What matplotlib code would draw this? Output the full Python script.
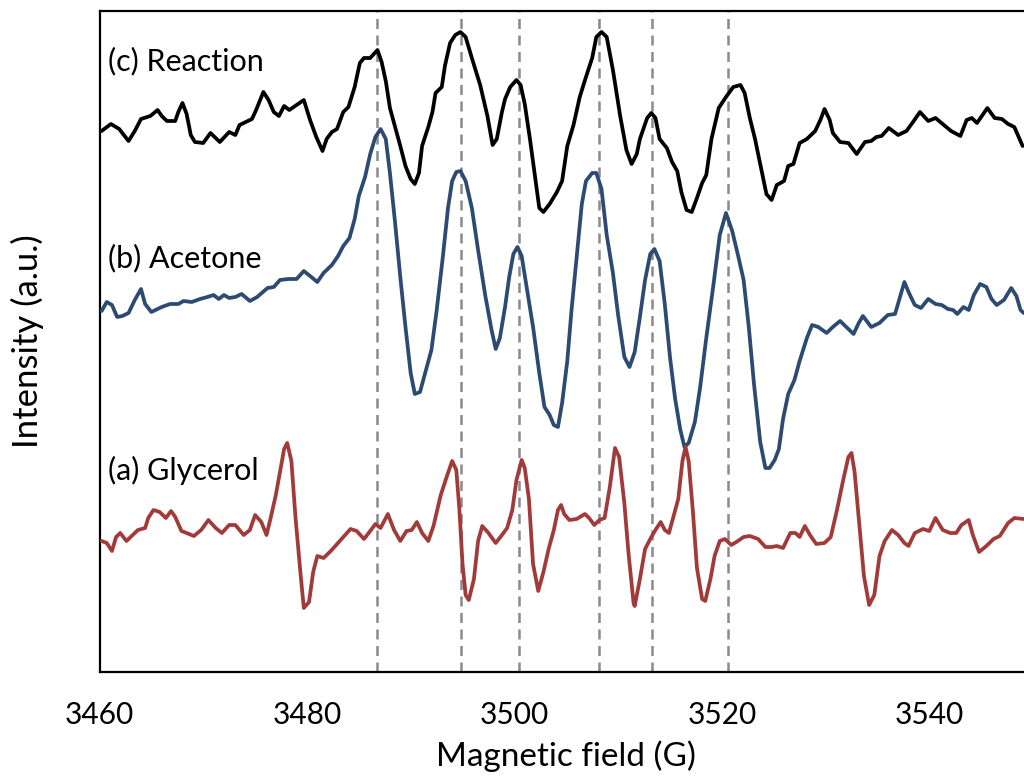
import matplotlib
matplotlib.use("Agg")
import matplotlib.pyplot as plt
import numpy as np

plt.rcParams['font.family'] = ['Lato', 'DejaVu Sans']

# EPR spectra (field in G, intensity in a.u. about each baseline)
field_c = [3460.2, 3461.1, 3461.9, 3462.8, 3463.4, 3464.0, 3464.9, 3465.6, 3466.0, 3466.5,
           3467.3, 3467.6, 3468.0, 3468.4, 3468.8, 3469.2, 3470.0, 3470.7, 3471.6, 3472.5,
           3473.1, 3473.5, 3474.7, 3475.1, 3475.8, 3476.3, 3476.8, 3477.3, 3477.8, 3478.3,
           3479.0, 3479.7, 3480.3, 3480.9, 3481.5, 3481.9, 3482.4, 3482.9, 3483.5, 3484.0,
           3484.6, 3485.1, 3485.5, 3486.1, 3486.8, 3487.2, 3487.6, 3488.0, 3488.5, 3489.0,
           3489.5, 3490.0, 3490.4, 3490.8, 3491.1, 3491.7, 3492.1, 3492.4, 3493.0, 3493.3,
           3493.8, 3494.3, 3494.8, 3495.3, 3495.9, 3496.7, 3497.4, 3497.9, 3498.3, 3498.8,
           3499.1, 3499.6, 3500.2, 3500.6, 3501.0, 3501.5, 3502.0, 3502.4, 3502.8, 3503.4,
           3504.1, 3504.6, 3505.1, 3505.7, 3506.3, 3506.9, 3507.5, 3507.9, 3508.4, 3508.9,
           3509.5, 3510.2, 3510.8, 3511.3, 3511.8, 3512.1, 3512.8, 3513.2, 3513.6, 3514.0,
           3514.7, 3515.2, 3515.7, 3516.1, 3516.6, 3517.1, 3517.6, 3518.1, 3518.5, 3519.0,
           3519.7, 3520.4, 3521.1, 3521.8, 3522.2, 3522.7, 3523.2, 3523.8, 3524.3, 3524.8,
           3525.3, 3526.0, 3526.4, 3526.9, 3527.5, 3528.2, 3529.0, 3529.5, 3529.9, 3530.4,
           3530.7, 3531.4, 3532.2, 3533.0, 3533.8, 3534.4, 3534.9, 3535.4, 3536.1, 3537.0,
           3537.8, 3538.5, 3539.1, 3539.9, 3540.6, 3541.3, 3542.1, 3543.0, 3543.6, 3544.1,
           3544.6, 3545.6, 3546.3, 3547.0, 3547.6, 3548.2, 3548.7, 3549.0]
reaction = [-1, 6, 1, -11, -1, 11, 14, 20, 14, 9,
            9, 18, 27, 16, -5, -12, -13, -3, -12, -2,
            -5, 5, 11, 20, 38, 30, 18, 14, 24, 20,
            25, 30, 10, -7, -21, -9, -2, 1, 18, 23,
            43, 67, 72, 72, 80, 68, 49, 22, 3, -16,
            -36, -49, -54, -43, -16, 3, 18, 37, 43, 64,
            87, 95, 98, 93, 72, 45, 14, -15, -9, 18,
            31, 43, 50, 45, 26, -9, -47, -78, -82, -74,
            -62, -51, -16, 5, 33, 53, 72, 93, 98, 93,
            60, 14, -20, -34, -24, -9, 12, 17, 12, -9,
            -18, -32, -41, -62, -80, -82, -68, -53, -45, -9,
            22, 33, 43, 45, 37, 12, -9, -39, -64, -70,
            -55, -51, -36, -34, -13, -9, -1, 10, 21, 10,
            -3, -12, -13, -24, -12, -11, -7, -6, 2, -5,
            -1, 9, 18, 9, 12, 6, -1, -6, 10, 12,
            7, 22, 12, 11, 6, 3, -9, -16]

field_b = [3460.2, 3460.7, 3461.2, 3461.7, 3462.2, 3462.8, 3463.4, 3464.0, 3464.4, 3465.0,
           3466.0, 3466.8, 3467.6, 3468.1, 3468.9, 3469.7, 3470.4, 3471.0, 3471.5, 3472.0,
           3472.5, 3473.1, 3473.7, 3474.5, 3475.2, 3476.2, 3476.8, 3477.4, 3478.2, 3479.0,
           3479.7, 3480.3, 3481.0, 3481.6, 3482.4, 3483.0, 3483.5, 3484.1, 3484.6, 3485.0,
           3485.6, 3486.1, 3486.6, 3487.1, 3487.6, 3488.0, 3488.5, 3489.0, 3489.5, 3490.0,
           3490.4, 3490.9, 3491.4, 3492.0, 3492.5, 3493.1, 3493.6, 3494.0, 3494.4, 3494.8,
           3495.3, 3495.9, 3496.5, 3497.2, 3497.8, 3498.2, 3498.6, 3499.1, 3499.5, 3499.9,
           3500.3, 3500.7, 3501.2, 3501.8, 3502.4, 3502.9, 3503.4, 3503.8, 3504.2, 3504.6,
           3505.1, 3505.5, 3506.0, 3506.5, 3506.9, 3507.5, 3507.9, 3508.4, 3508.9, 3509.5,
           3510.0, 3510.6, 3511.1, 3511.6, 3512.1, 3512.6, 3513.1, 3513.5, 3514.0, 3514.5,
           3515.0, 3515.5, 3516.0, 3516.4, 3516.8, 3517.4, 3517.9, 3518.5, 3519.2, 3519.8,
           3520.4, 3521.0, 3521.6, 3522.1, 3522.6, 3523.1, 3523.7, 3524.2, 3524.6, 3525.1,
           3525.5, 3525.9, 3526.4, 3527.0, 3527.5, 3528.2, 3528.7, 3529.3, 3530.1, 3530.7,
           3531.4, 3532.0, 3532.7, 3533.2, 3533.6, 3534.4, 3535.2, 3536.0, 3536.7, 3537.2,
           3537.6, 3538.0, 3538.6, 3539.2, 3539.9, 3540.6, 3541.2, 3541.8, 3542.3, 3542.7,
           3543.3, 3543.8, 3544.3, 3544.9, 3545.5, 3546.0, 3546.5, 3547.2, 3547.9, 3548.4,
           3548.8, 3549.1]
acetone = [-11, -2, -5, -17, -16, -13, 0, 11, -4, -12,
           -7, -4, -4, -1, -2, 1, 3, 5, 1, 5,
           2, 3, 6, -1, 3, 12, 13, 20, 21, 21,
           29, 24, 18, 27, 35, 44, 54, 62, 81, 104,
           123, 146, 163, 171, 161, 127, 77, 23, -27, -73,
           -94, -92, -73, -50, -11, 43, 92, 119, 128, 129,
           119, 92, 50, 4, -30, -49, -38, -7, 23, 46,
           53, 44, 12, -27, -73, -107, -115, -125, -127, -103,
           -61, -11, 43, 96, 119, 127, 127, 111, 65, 27,
           -15, -57, -67, -52, -17, 20, 46, 51, 39, -4,
           -57, -99, -130, -147, -143, -122, -88, -38, 16, 65,
           87, 69, 43, 20, -27, -84, -142, -168, -168, -160,
           -149, -119, -94, -80, -61, -38, -25, -27, -33, -27,
           -21, -27, -34, -23, -16, -27, -23, -15, -14, 4,
           18, 8, -5, -8, 1, -4, -5, -9, -10, -14,
           -7, -10, 5, 16, 13, 1, -5, 0, 12, 4,
           -10, -13]

field_a = [3460.2, 3460.7, 3461.2, 3461.6, 3462.0, 3462.6, 3463.2, 3463.7, 3464.4, 3464.7,
           3465.2, 3465.8, 3466.4, 3466.9, 3467.3, 3467.9, 3468.4, 3469.1, 3469.8, 3470.5,
           3471.2, 3471.8, 3472.5, 3473.1, 3473.9, 3474.5, 3475.0, 3475.6, 3476.1, 3476.5,
           3477.0, 3477.4, 3477.8, 3478.1, 3478.5, 3478.9, 3479.4, 3479.7, 3480.2, 3480.6,
           3481.0, 3481.6, 3482.3, 3482.9, 3483.5, 3484.2, 3484.8, 3485.5, 3486.1, 3486.6,
           3487.1, 3487.8, 3488.4, 3489.0, 3489.6, 3490.1, 3490.6, 3491.1, 3491.7, 3492.2,
           3492.9, 3493.5, 3494.0, 3494.4, 3494.7, 3495.0, 3495.3, 3495.6, 3496.1, 3496.5,
           3496.9, 3497.5, 3498.2, 3498.8, 3499.3, 3499.8, 3500.2, 3500.7, 3501.0, 3501.4,
           3501.8, 3502.3, 3502.8, 3503.3, 3503.8, 3504.2, 3504.5, 3504.8, 3505.3, 3506.0,
           3506.8, 3507.2, 3507.7, 3508.2, 3508.7, 3509.2, 3509.7, 3510.1, 3510.6, 3511.0,
           3511.5, 3511.6, 3512.1, 3512.6, 3513.2, 3513.6, 3514.1, 3514.5, 3514.9, 3515.3,
           3515.8, 3516.2, 3516.5, 3516.8, 3517.2, 3517.6, 3518.1, 3518.4, 3518.9, 3519.3,
           3519.8, 3520.3, 3520.9, 3521.4, 3522.1, 3522.7, 3523.5, 3524.2, 3524.8, 3525.3,
           3525.9, 3526.6, 3527.1, 3527.5, 3528.0, 3528.5, 3529.1, 3529.9, 3530.5, 3531.1,
           3531.7, 3532.2, 3532.5, 3532.8, 3533.2, 3533.7, 3534.2, 3534.7, 3535.2, 3535.7,
           3536.4, 3537.0, 3537.6, 3538.0, 3538.6, 3539.4, 3540.0, 3540.6, 3541.3, 3542.0,
           3542.6, 3543.1, 3543.8, 3544.2, 3544.8, 3545.5, 3546.2, 3546.8, 3547.6, 3548.2,
           3549.1]
glycerol = [-1, -3, -11, 3, 7, -1, 5, 10, 12, 22,
            30, 28, 22, 29, 23, 9, 7, 4, 10, 20,
            12, 7, 15, 15, 5, 10, 25, 18, 5, 22,
            45, 68, 91, 97, 79, 22, -36, -68, -62, -32,
            -16, -18, -11, -4, 3, 11, 9, 1, 9, 16,
            12, 26, 10, -1, 9, 10, 18, 7, -1, 14,
            45, 64, 79, 70, 30, -24, -55, -60, -39, -1,
            14, 7, -3, 5, 12, 30, 60, 80, 72, 41,
            -24, -51, -32, -9, 10, 30, 35, 26, 20, 21,
            26, 22, 15, 20, 22, 53, 92, 83, 37, -13,
            -64, -66, -39, -9, 3, 10, 18, 10, 7, 22,
            41, 79, 93, 79, 30, -28, -59, -61, -39, -16,
            -1, 1, -5, -2, 3, 4, 1, -7, -7, -6,
            -8, 7, 7, 3, 14, 5, -4, -3, 3, 30,
            60, 83, 87, 68, 22, -36, -65, -55, -16, -1,
            10, 5, -3, -6, 7, 11, 9, 22, 10, 7,
            7, 15, 20, 5, -12, -6, 1, 4, 17, 22,
            21]

# hyperfine line positions marked on the plot
marker_fields = [3486.8, 3494.9, 3500.4, 3508.2, 3513.3, 3520.6]

spectra = [
    ('(c) Reaction', field_c, reaction, 542, 'black', 611),
    ('(b) Acetone', field_b, acetone, 372, '#2C4A72', 414),
    ('(a) Glycerol', field_a, glycerol, 132, '#A23A3A', 202),
]

fig = plt.figure(figsize=(10.24, 7.84), dpi=100)
ax = fig.add_axes([99.5 / 1024, 112 / 784, (1033 - 99.5) / 1024, 661 / 784])

for fx in marker_fields:
    ax.axvline(fx, color='#8a8a8a', lw=1.8, ls=(0, (4, 2.6)), zorder=1)

for name, fx, vals, offset, color, ty in spectra:
    ax.plot(fx, np.array(vals) + offset, color=color, lw=2.7,
            solid_joinstyle='round', solid_capstyle='round', zorder=3)
    ax.text(3460.8, ty, name, fontsize=22, ha='left', va='center', color='black')

ax.set_xlim(3460, 3550)
ax.set_ylim(0, 661)
ax.set_xticks([3460, 3480, 3500, 3520, 3540])
ax.set_yticks([])
ax.tick_params(axis='x', length=0, pad=21, labelsize=21.5)
for s in ax.spines.values():
    s.set_linewidth(1.6)
    s.set_color('black')

# the original crop clips this label; keep it just inside the canvas
ax.set_xlabel('Magnetic field (G)', fontsize=24, labelpad=8)
ax.set_ylabel('Intensity (a.u.)', fontsize=25, labelpad=40)

fig.savefig('out.png', dpi=100)
